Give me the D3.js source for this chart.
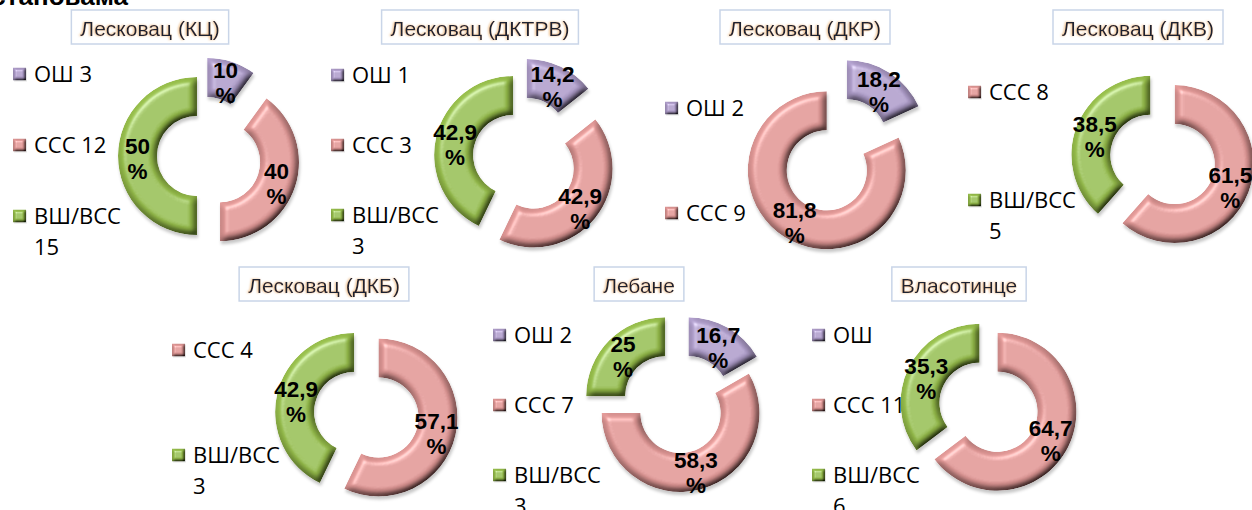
<!DOCTYPE html>
<meta charset="utf-8">
<html>
<head>
  <script src="https://d3js.org/d3.v7.min.js"></script>
  <style>
    body { margin: 0; background: #fff; }
    svg { display: block; }
  </style>
</head>
<body>
  <svg id="chart"></svg>
  <script type="text/javascript">
    // data
    const chartNames = ["Лесковац (КЦ)", "Лесковац (ДКТРВ)", "Лесковац (ДКР)", "Лесковац (ДКВ)",
                        "Лесковац (ДКБ)", "Лебане", "Власотинце"]
    const categories = ["ОШ", "ССС", "ВШ/ВСС"]
    // null = category missing from the chart, 0 = shown in legend without a number
    const counts = [
      [3, 12, 15],
      [1, 3, 3],
      [2, 9, null],
      [null, 8, 5],
      [null, 4, 3],
      [2, 7, 3],
      [0, 11, 6]
    ]
    const percentLabels = [
      ["10", "40", "50"],
      ["14,2", "42,9", "42,9"],
      ["18,2", "81,8", null],
      [null, "61,5", "38,5"],
      [null, "57,1", "42,9"],
      ["16,7", "58,3", "25"],
      [null, "64,7", "35,3"]
    ]
    const colors = ["#b4a2d0", "#e69c9a", "#9cc44e"]

    // layout of each small chart
    const layout = [
      {cx: 201,  cy: 156, tx: 150,  ty: 10,  lx: 13,  ly: [74, 216],  explode: [20, 20, 4]},
      {cx: 518,  cy: 156, tx: 480,  ty: 10,  lx: 331, ly: [75, 215],  explode: [20, 20, 5]},
      {cx: 836,  cy: 156, tx: 805,  ty: 10,  lx: 665, ly: [108, 213], explode: [20, 17, 0]},
      {cx: 1156, cy: 157, tx: 1138, ty: 10,  lx: 968, ly: [92, 200],  explode: [0, 20, 6]},
      {cx: 359,  cy: 413, tx: 324,  ty: 267, lx: 172, ly: [350, 455], explode: [0, 20, 5]},
      {cx: 680,  cy: 411, tx: 639,  ty: 267, lx: 493, ly: [335, 475], explode: [17, 2, 21]},
      {cx: 984,  cy: 405, tx: 959,  ty: 267, lx: 812, ly: [335, 475], explode: [0, 15, 5]}
    ]

    const width = 1252
    const height = 510
    const outerR = 79
    const innerR = 40

    const svg = d3.select('#chart')
      .attr('width', width)
      .attr('height', height)

    const defs = svg.append('defs')

    // bevel look of the doughnut pieces
    function addBevel(id, blur, scale, shadow) {
      const f = defs.append('filter').attr('id', id)
        .attr('x', '-20%').attr('y', '-20%').attr('width', '150%').attr('height', '150%')
      f.append('feGaussianBlur').attr('in', 'SourceAlpha').attr('stdDeviation', blur).attr('result', 'b')
      f.append('feDiffuseLighting').attr('in', 'b').attr('surfaceScale', scale)
        .attr('diffuseConstant', 1.04).attr('lighting-color', '#fff').attr('result', 'd')
        .append('feDistantLight').attr('azimuth', 235).attr('elevation', 60)
      f.append('feComposite').attr('in', 'SourceGraphic').attr('in2', 'd')
        .attr('operator', 'arithmetic').attr('k1', 1).attr('result', 'shaded')
      f.append('feSpecularLighting').attr('in', 'b').attr('surfaceScale', scale)
        .attr('specularConstant', 0.35).attr('specularExponent', 24)
        .attr('lighting-color', '#fff').attr('result', 's')
        .append('feDistantLight').attr('azimuth', 235).attr('elevation', 50)
      f.append('feComposite').attr('in', 's').attr('in2', 'SourceAlpha').attr('operator', 'in').attr('result', 's2')
      f.append('feComposite').attr('in', 'shaded').attr('in2', 's2')
        .attr('operator', 'arithmetic').attr('k2', 1).attr('k3', 1).attr('result', 'lit')
      f.append('feComposite').attr('in', 'lit').attr('in2', 'SourceAlpha').attr('operator', 'in').attr('result', 'fin')
      f.append('feGaussianBlur').attr('in', 'SourceAlpha').attr('stdDeviation', blur / 2).attr('result', 'sb')
      f.append('feOffset').attr('in', 'sb').attr('dx', 1).attr('dy', blur * 0.8).attr('result', 'so')
      f.append('feFlood').attr('flood-color', '#000').attr('flood-opacity', shadow)
      f.append('feComposite').attr('in2', 'so').attr('operator', 'in').attr('result', 'sh')
      const m = f.append('feMerge')
      m.append('feMergeNode').attr('in', 'sh')
      m.append('feMergeNode').attr('in', 'fin')
    }
    addBevel('bevel', 3.5, 7, 0.22)
    addBevel('bevelSmall', 1.5, 4, 0.1)

    // soft coloured halo round the titles
    const glow = defs.append('filter').attr('id', 'glow')
      .attr('x', '-10%').attr('y', '-30%').attr('width', '120%').attr('height', '160%')
    glow.append('feGaussianBlur').attr('in', 'SourceAlpha').attr('stdDeviation', 1.3).attr('result', 'g')
    glow.append('feOffset').attr('in', 'g').attr('dx', -0.8).attr('result', 'go')
    glow.append('feFlood').attr('flood-color', '#e8a050').attr('flood-opacity', 0.75)
    glow.append('feComposite').attr('in2', 'go').attr('operator', 'in').attr('result', 'gl')
    const gm = glow.append('feMerge')
    gm.append('feMergeNode').attr('in', 'gl')
    gm.append('feMergeNode').attr('in', 'SourceGraphic')

    // header line cut off at the top
    svg.append('text')
      .attr('x', 128).attr('y', 5)
      .attr('text-anchor', 'end')
      .attr('font-family', 'Liberation Sans, Arial, sans-serif')
      .attr('font-weight', 'bold')
      .attr('font-size', 26)
      .text('установама')

    const arc = d3.arc().innerRadius(innerR).outerRadius(outerR)
    const pie = d3.pie().sort(null).value(d => d.count)

    chartNames.forEach(function(name, i) {
      const L = layout[i]
      const items = categories.map((c, j) => ({
        cat: c, idx: j, count: counts[i][j], label: percentLabels[i][j]
      }))

      // title with box
      const tg = svg.append('g')
      const title = tg.append('text')
        .attr('x', L.tx).attr('y', L.ty + 26)
        .attr('text-anchor', 'middle')
        .attr('font-family', 'Liberation Sans, Arial, sans-serif')
        .attr('font-size', 21)
        .attr('fill', '#1e2233')
        .attr('filter', 'url(#glow)')
        .text(name)
      const tw = title.node().getComputedTextLength()
      tg.insert('rect', 'text')
        .attr('x', L.tx - tw / 2 - 9).attr('y', L.ty)
        .attr('width', tw + 18).attr('height', 34)
        .attr('fill', '#fff')
        .attr('stroke', '#c9d5e8')
        .attr('stroke-width', 1.5)

      // doughnut
      const slices = pie(items.filter(d => d.count > 0))
      const g = svg.append('g').attr('transform', `translate(${L.cx},${L.cy})`)
      const pieces = g.selectAll('g.piece')
        .data(slices)
        .enter().append('g')
        .attr('class', 'piece')
        .attr('transform', d => {
          const mid = (d.startAngle + d.endAngle) / 2
          const e = L.explode[d.data.idx]
          return `translate(${Math.sin(mid) * e},${-Math.cos(mid) * e})`
        })
      pieces.append('path')
        .attr('d', arc)
        .attr('fill', d => colors[d.data.idx])
        .attr('filter', 'url(#bevel)')

      // percentage labels
      const labels = pieces.append('text')
        .attr('transform', d => `translate(${arc.centroid(d)})`)
        .attr('text-anchor', 'middle')
        .attr('font-family', 'Liberation Sans, Arial, sans-serif')
        .attr('font-weight', 'bold')
        .attr('font-size', 22.5)
        .attr('fill', '#000')
      labels.append('tspan').attr('x', 0).attr('y', -2).text(d => d.data.label)
      labels.append('tspan').attr('x', 0).attr('y', 23).text('%')

      // legend
      const legItems = items.filter(d => d.count !== null)
      const ly = d3.scalePoint().domain(legItems.map(d => d.cat)).range(L.ly)
      const lg = svg.append('g')
      const entry = lg.selectAll('g')
        .data(legItems)
        .enter().append('g')
        .attr('transform', d => `translate(${L.lx},${ly(d.cat)})`)
      entry.append('rect')
        .attr('x', 0).attr('y', -6.5)
        .attr('width', 13).attr('height', 13)
        .attr('fill', d => colors[d.idx])
        .attr('filter', 'url(#bevelSmall)')
      entry.append('text')
        .attr('x', 21).attr('y', 8)
        .attr('font-family', 'Open Sans, sans-serif')
        .attr('font-size', 22)
        .attr('fill', '#000')
        .each(function(d) {
          const t = d3.select(this)
          const full = d.count === 0 ? d.cat : d.cat + ' ' + d.count
          t.text(full)
          if (this.getComputedTextLength() > 100) {
            t.text(null)
            t.append('tspan').attr('x', 21).text(d.cat)
            t.append('tspan').attr('x', 21).attr('dy', 31).text(d.count)
          }
        })
    })
  </script>
</body>
</html>
